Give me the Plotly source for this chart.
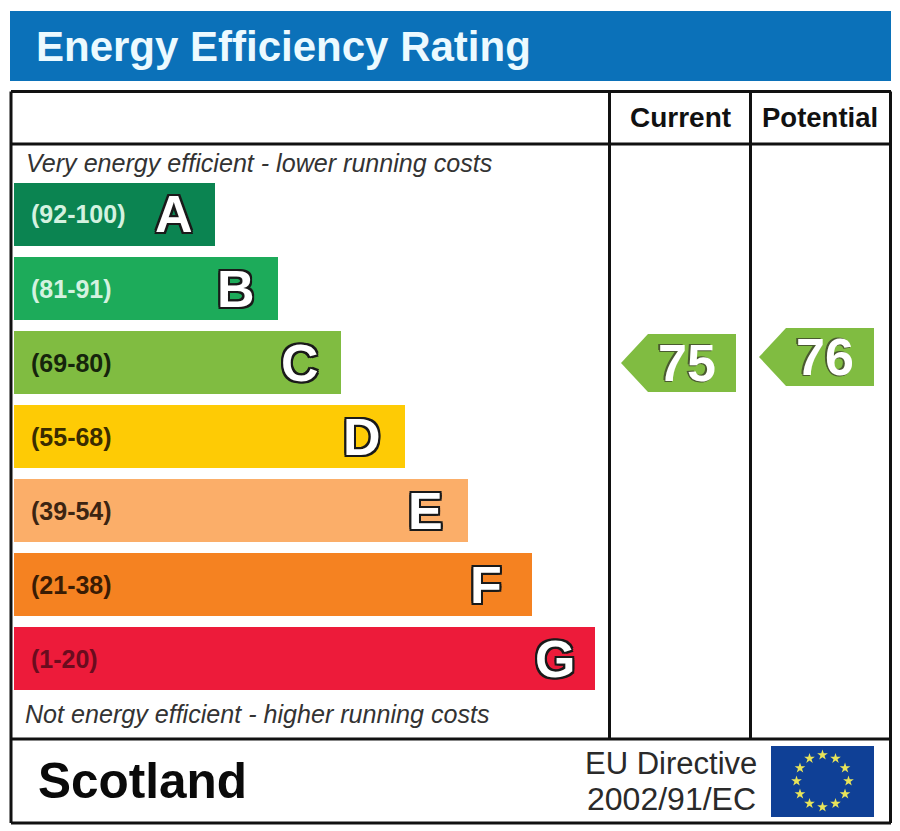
import numpy as np
import plotly.graph_objects as go

W, H = 900, 831

title = "Energy Efficiency Rating"
col_headers = ["Current", "Potential"]
top_note = "Very energy efficient - lower running costs"
bottom_note = "Not energy efficient - higher running costs"
country = "Scotland"
directive = ["EU Directive", "2002/91/EC"]

letters = ["A", "B", "C", "D", "E", "F", "G"]
ranges = ["(92-100)", "(81-91)", "(69-80)", "(55-68)", "(39-54)", "(21-38)", "(1-20)"]
bar_lengths = [201, 264, 327, 391, 454, 518, 581]
bar_colors = ["#0b8451", "#1dab5a", "#80bc41", "#fecb05", "#fbae69", "#f58221", "#ed1b3a"]
range_colors = ["#d4f2e0", "#d4f2e0", "#16240c", "#3a2c00", "#3c2412", "#3a1c04", "#6a0c1e"]
letter_inset = [20, 21, 20, 22, 23, 28, 18]

ratings = [75, 76]
arrow_left = [621, 759]
arrow_color = "#80bc41"

FONT = "Liberation Sans"
FRAME = "#111111"
OUTLINE = "-2px 0 0 #1a1a1a, 2px 0 0 #1a1a1a, 0 -2px 0 #1a1a1a, 0 2px 0 #1a1a1a, -2px -2px 0 #1a1a1a, 2px 2px 0 #1a1a1a, -2px 2px 0 #1a1a1a, 2px -2px 0 #1a1a1a"

fig = go.Figure()

# rating bands
fig.add_trace(go.Bar(y=letters, x=bar_lengths, orientation="h",
                     marker=dict(color=bar_colors, line=dict(width=0)),
                     xaxis="x", yaxis="y", hoverinfo="skip", showlegend=False))

# current / potential arrows, y in rating units
half = 29 / 6
for r, left in zip(ratings, arrow_left):
    fig.add_trace(go.Scatter(x=[left, left + 27, left + 115, left + 115, left + 27, left],
                             y=[r, r + half, r + half, r - half, r - half, r],
                             mode="lines", fill="toself", fillcolor=arrow_color,
                             line=dict(width=0, color=arrow_color),
                             xaxis="x2", yaxis="y3", hoverinfo="skip", showlegend=False))

# flag stars
angles = np.deg2rad(np.arange(0, 360, 30))
fig.add_trace(go.Scatter(x=822.5 + 26 * np.sin(angles), y=781 - 26 * np.cos(angles),
                         mode="markers", marker=dict(symbol="star", size=8, color="#e8e45a", line=dict(width=0)),
                         xaxis="x2", yaxis="y2", hoverinfo="skip", showlegend=False))


def line(x0, y0, x1, y1):
    return dict(type="line", xref="x2", yref="y2", x0=x0, y0=y0, x1=x1, y1=y1,
                line=dict(color=FRAME, width=3), layer="above")


shapes = [
    dict(type="rect", xref="x2", yref="y2", x0=10, y0=11, x1=891, y1=81,
         fillcolor="#0b71b9", line=dict(width=0), layer="below"),
    dict(type="rect", xref="x2", yref="y2", x0=771, y0=746, x1=874, y1=817,
         fillcolor="#0f4096", line=dict(width=0), layer="below"),
    line(11, 91.5, 891, 91.5), line(11, 144, 891, 144), line(11, 739, 891, 739), line(11, 823, 891, 823),
    line(11, 91.5, 11, 823), line(890.5, 91.5, 890.5, 823),
    line(609.5, 91.5, 609.5, 739), line(750.5, 91.5, 750.5, 739),
]


def label(text, x, y, size, color="#111111", bold=False, italic=False, anchor="left", shadow=None, xref="x2", yref="y2"):
    f = dict(family=FONT, size=size, color=color, weight="bold" if bold else "normal",
             style="italic" if italic else "normal")
    if shadow:
        f["shadow"] = shadow
    return dict(text=text, x=x, y=y, xref=xref, yref=yref, xanchor=anchor, yanchor="middle",
                showarrow=False, font=f)


annotations = [
    label(title, 34, 46, 42, color="#ecfaff", bold=True),
    label(col_headers[0], 680.5, 117, 28, bold=True, anchor="center"),
    label(col_headers[1], 820, 117, 27.5, bold=True, anchor="center"),
    label(top_note, 24, 163, 25.1, color="#333333", italic=True),
    label(bottom_note, 23, 714, 25.1, color="#333333", italic=True),
    label(country, 36, 780, 49.5, color="#0a0a0a", bold=True),
    label(directive[0], 759, 763, 31, color="#2a2a2a", anchor="right"),
    label(directive[1], 758, 799, 32, color="#2a2a2a", anchor="right"),
]

for i, letter in enumerate(letters):
    annotations.append(label(ranges[i], 15, letter, 25, color=range_colors[i], bold=True, xref="x", yref="y"))
    annotations.append(label(letter, bar_lengths[i] - letter_inset[i], letter, 52, color="#ffffff", bold=True,
                             anchor="right", shadow=OUTLINE, xref="x", yref="y"))

for r, left in zip(ratings, arrow_left):
    annotations.append(label(str(r), left + 66, r, 52, color="#ffffff", bold=True, anchor="center",
                             shadow="-2px -1px 0 #4a5a30, -1px 1px 0 #4a5a30", yref="y3"))

hidden = dict(visible=False, showgrid=False, zeroline=False, fixedrange=True)

fig.update_layout(
    width=W, height=H,
    margin=dict(l=0, r=0, t=0, b=0),
    autosize=False,
    paper_bgcolor="white", plot_bgcolor="rgba(0,0,0,0)",
    bargap=11 / 74,
    showlegend=False,
    shapes=shapes,
    annotations=annotations,
    xaxis=dict(hidden, domain=[14 / W, 595 / W], range=[0, max(bar_lengths)], anchor="y"),
    yaxis=dict(hidden, domain=[1 - 695.5 / H, 1 - 177.5 / H], type="category",
               categoryorder="array", categoryarray=letters, range=[6.5, -0.5], anchor="x"),
    xaxis2=dict(hidden, domain=[0, 1], range=[0, W], anchor="y2"),
    yaxis2=dict(hidden, domain=[0, 1], range=[H, 0], anchor="x2"),
    yaxis3=dict(hidden, domain=[0, 1], range=[-3, 135.5], anchor="x2", overlaying="y2"),
)

# browser default body margin would push the 900px figure off the window
fig.write_html("out.html", config=dict(displayModeBar=False),
               post_script="document.body.style.margin='0';document.documentElement.style.overflow='hidden';")
